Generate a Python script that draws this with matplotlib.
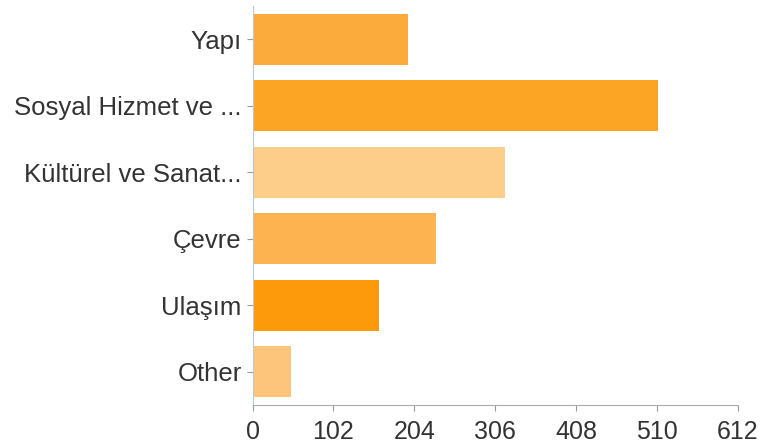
import matplotlib
matplotlib.use("Agg")
import matplotlib.pyplot as plt

# kategoriler ve değerler (yukarıdan aşağıya)
categories = ["Yapı", "Sosyal Hizmet ve ...", "Kültürel ve Sanat...", "Çevre", "Ulaşım", "Other"]
values = [196, 512, 318, 231, 160, 48]
bar_colors = ["#fbab3c", "#fca424", "#fdcd8a", "#fdb450", "#fd9a0c", "#fdc47c"]
x_ticks = [0, 102, 204, 306, 408, 510, 612]

plt.rcParams["font.family"] = ["Liberation Sans", "DejaVu Sans"]

fig = plt.figure(figsize=(7.61, 4.48), dpi=100)
ax = fig.add_axes([0.332, 0.096, 0.6374, 0.8906])

pos = list(range(len(categories)))
ax.barh(pos, values, height=0.765, color=bar_colors)

ax.set_ylim(len(categories) - 0.5, -0.5)
ax.set_xlim(0, 612)
ax.set_xticks(x_ticks)
ax.set_yticks(pos)
ax.set_yticklabels(categories, fontsize=18.5)

for side in ("top", "right"):
    ax.spines[side].set_visible(False)
ax.spines["left"].set_color("#b8c8d8")
ax.spines["bottom"].set_color("#aaaaaa")
ax.tick_params(axis="both", colors="#999999", labelcolor="#333333", length=4)
ax.tick_params(axis="y", pad=4)
ax.tick_params(axis="x", pad=7, labelsize=18)

fig.savefig("out.png", dpi=100)
